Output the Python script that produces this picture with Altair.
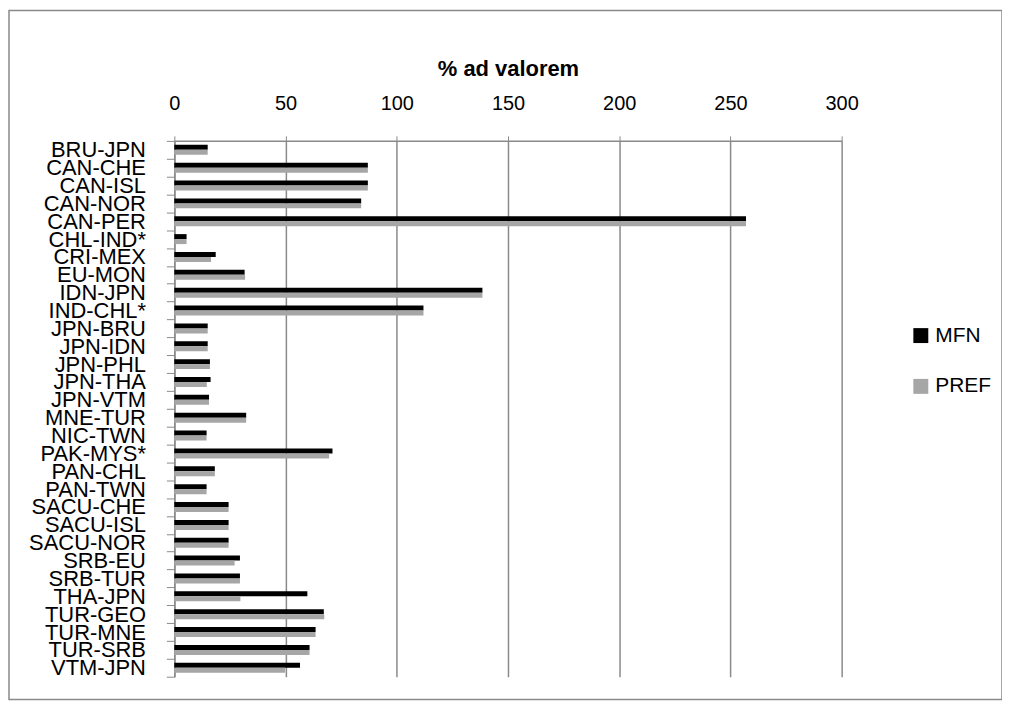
import altair as alt
import pandas as pd

categories = ["BRU-JPN", "CAN-CHE", "CAN-ISL", "CAN-NOR", "CAN-PER", "CHL-IND*", "CRI-MEX",
              "EU-MON", "IDN-JPN", "IND-CHL*", "JPN-BRU", "JPN-IDN", "JPN-PHL", "JPN-THA",
              "JPN-VTM", "MNE-TUR", "NIC-TWN", "PAK-MYS*", "PAN-CHL", "PAN-TWN", "SACU-CHE",
              "SACU-ISL", "SACU-NOR", "SRB-EU", "SRB-TUR", "THA-JPN", "TUR-GEO", "TUR-MNE",
              "TUR-SRB", "VTM-JPN"]
mfn = [15, 87, 87, 84, 257, 5.5, 18.6, 31.6, 138.5, 112, 15, 15, 16, 16.3, 15.6, 32.3, 14.5,
       71.1, 18.2, 14.5, 24.4, 24.4, 24.4, 29.5, 29.5, 59.8, 67.2, 63.5, 60.8, 56.5]
pref = [15, 87, 87, 84, 257, 5.5, 16.5, 31.8, 138.5, 112, 15, 15, 16, 14.6, 15.6, 32.3, 14.5,
        69.6, 18.2, 14.5, 24.4, 24.4, 24.4, 27.1, 29.5, 29.7, 67.4, 63.5, 60.8, 49.8]
series = ["MFN", "PREF"]
x_ticks = [0, 50, 100, 150, 200, 250, 300]

df = pd.DataFrame({
    "pair": categories * 2,
    "series": [series[0]] * len(categories) + [series[1]] * len(categories),
    "value": mfn + pref,
})

FONT = "Liberation Sans"
GRAY = "#8a8a8a"

bars = alt.Chart(df).mark_bar(strokeWidth=0).encode(
    x=alt.X("value:Q",
            scale=alt.Scale(domain=[0, 300], nice=False, zero=True),
            axis=alt.Axis(orient="top", values=x_ticks, title="% ad valorem",
                          labelFont=FONT, labelFontSize=20, labelColor="#000000",
                          labelPadding=22, labelFlush=False, labelOverlap=False,
                          tickSize=5, tickColor=GRAY, domainColor=GRAY,
                          domainWidth=1.5, grid=True, gridColor=GRAY, gridWidth=1.5,
                          titleFont=FONT, titleFontSize=22, titleFontWeight="bold",
                          titleColor="#000000", titlePadding=14)),
    y=alt.Y("pair:N", sort=categories,
            scale=alt.Scale(paddingInner=0, paddingOuter=0),
            axis=alt.Axis(title=None, tickBand="extent", labelFont=FONT, labelFontSize=22,
                          labelColor="#000000", labelPadding=21, tickSize=8,
                          tickColor=GRAY, domainColor=GRAY, domainWidth=1.5, grid=False,
                          labelLimit=300, labelOverlap=False)),
    yOffset=alt.YOffset("series:N", sort=series,
                        scale=alt.Scale(paddingInner=0, paddingOuter=0.79)),
    color=alt.Color("series:N",
                    scale=alt.Scale(domain=series, range=["#000000", "#a6a6a6"]),
                    legend=alt.Legend(title=None, orient="none", legendX=739, legendY=185,
                                      symbolType="square", symbolSize=225,
                                      symbolStrokeWidth=0, labelFont=FONT,
                                      labelFontSize=21, labelColor="#000000",
                                      labelOffset=4, rowPadding=29, padding=0)),
)

frame = alt.Chart(alt.Data(values=[{"a": 1}])).mark_rect(
    filled=False, stroke=GRAY, strokeWidth=1.5
).encode(
    x=alt.value(-166), x2=alt.value(831), y=alt.value(-131), y2=alt.value(561)
)

chart = alt.layer(bars, frame).properties(
    width=670, height=538,
    padding={"left": 167, "top": 132, "right": 161, "bottom": 26},
    autosize=alt.AutoSizeParams(type="none"),
    background="#ffffff",
).configure_view(strokeWidth=0)

chart.save("out.html", embed_options={"renderer": "svg", "actions": False})
